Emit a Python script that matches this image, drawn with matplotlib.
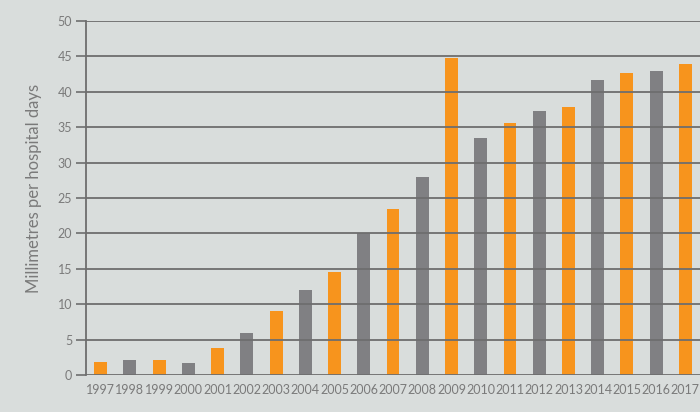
import matplotlib.pyplot as plt
import numpy as np

YEARS = ["1997", "1998", "1999", "2000", "2001", "2002", "2003", "2004", "2005", "2006", "2007",
         "2008", "2009", "2010", "2011", "2012", "2013", "2014", "2015", "2016", "2017"]
VALUES = [1.9, 2.1, 2.1, 1.8, 3.8, 6.0, 9.0, 12.1, 14.5, 20.0, 23.4,
          28.0, 44.7, 33.4, 35.6, 37.3, 37.8, 41.7, 42.6, 42.9, 43.9]
Y_LABEL = "Millimetres per hospital days"

BG = "#d9dddc"
ORANGE = "#f7941d"
GREY = "#808083"
TEXT = "#7a7a7a"
LINE = "#6e6e6e"

plt.rcParams["font.family"] = ["Lato", "DejaVu Sans"]

fig = plt.figure(figsize=(7.0, 4.12), dpi=100, facecolor=BG)
ax = fig.add_axes([0.1229, 0.089, 0.8771, 0.8608], facecolor=BG)

x = np.arange(len(YEARS))
colors = [ORANGE if i % 2 == 0 else GREY for i in range(len(YEARS))]
ax.bar(x, VALUES, width=0.44, color=colors, zorder=2)

ax.set_xlim(-0.5, len(YEARS) - 0.5)
ax.set_ylim(0, 50)
ax.set_yticks(range(0, 51, 5))
ax.set_xticks(x)
ax.set_xticklabels(YEARS)

# gridlines sit on top of the bars in the original
ax.grid(axis="y", color=LINE, linewidth=1.3, zorder=3)
ax.set_axisbelow(False)

for side in ["top", "right", "bottom"]:
    ax.spines[side].set_visible(False)
ax.spines["left"].set_color(LINE)
ax.spines["left"].set_linewidth(1.3)
ax.spines["left"].set_zorder(4)

ax.tick_params(axis="y", length=7, width=1.2, color=LINE, labelcolor=TEXT, labelsize=9, pad=3)
ax.tick_params(axis="x", length=0, labelcolor=TEXT, labelsize=9, pad=6)

ax.set_ylabel(Y_LABEL, color=TEXT, fontsize=12)
ax.yaxis.set_label_coords(-0.072, 0.528)

fig.savefig("out.png", dpi=100, facecolor=BG)
